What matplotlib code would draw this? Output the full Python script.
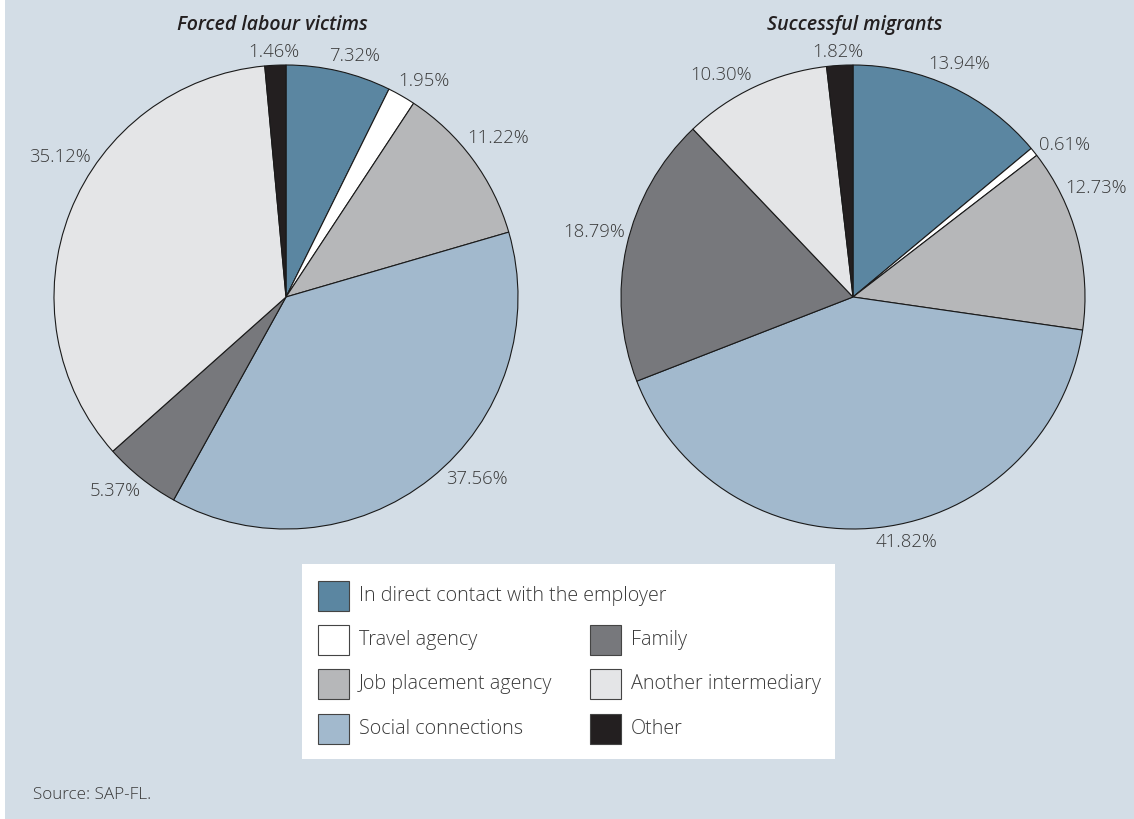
import numpy as np
import matplotlib
matplotlib.use('Agg')
import matplotlib.pyplot as plt
from matplotlib.patches import Rectangle

plt.rcParams['font.family'] = ['Open Sans', 'DejaVu Sans']

# data
categories = ['In direct contact with the employer', 'Travel agency',
              'Job placement agency', 'Social connections', 'Family',
              'Another intermediary', 'Other']
forced = [7.32, 1.95, 11.22, 37.56, 5.37, 35.12, 1.46]
migrants = [13.94, 0.61, 12.73, 41.82, 18.79, 10.30, 1.82]
titles = ['Forced labour victims', 'Successful migrants']
source = 'Source: SAP-FL.'

colors = ['#5b86a1', '#ffffff', '#b6b7b9', '#a2b9cd', '#77787c', '#e4e5e7', '#231f20']
bg = '#d3dde6'
txt_col = '#3a3a3a'

# small angle tweaks (deg) so the % labels sit where the original put them
nudges = [[-2.6, -2.7, 0.3, 7.8, -2.7, -10.2, 0.2],
          [0.7, -3.0, 9.4, 5.7, -1.5, 5.6, 0.2]]

W, H = 1134, 819
fig = plt.figure(figsize=(W / 100, H / 100), dpi=100)
fig.patch.set_facecolor('white')
fig.add_artist(Rectangle((5 / W, 0), 1 - 5 / W, 1, transform=fig.transFigure,
                         facecolor=bg, edgecolor='none', zorder=-1))

R = 232  # pie radius in px
lim = 1.05
centers = [(286, 297), (853, 297)]
title_x = [272, 855]

renderer = fig.canvas.get_renderer()
for k, vals in enumerate([forced, migrants]):
    cx, cy = centers[k]
    size = 2 * lim * R
    ax = fig.add_axes([(cx - size / 2) / W, (H - cy - size / 2) / H, size / W, size / H])
    wedges, _ = ax.pie(vals, colors=colors, startangle=90, counterclock=False,
                       wedgeprops=dict(edgecolor='#1a1a1a', linewidth=0.8))
    ax.set_xlim(-lim, lim)
    ax.set_ylim(-lim, lim)
    ax.set_aspect('equal')
    ax.axis('off')

    px = ax.transData.transform((1, 0))[0] - ax.transData.transform((0, 0))[0]
    gap = 3
    for w, v, dn in zip(wedges, vals, nudges[k]):
        ang = np.deg2rad((w.theta1 + w.theta2) / 2 + dn)
        t = ax.text(0, 0, '%.2f%%' % v, ha='center', va='center',
                    fontsize=13.3, fontweight='light', color=txt_col)
        bb = t.get_window_extent(renderer=renderer)
        ext = abs(np.cos(ang)) * bb.width / 2 + abs(np.sin(ang)) * bb.height / 2
        r = 1 + (gap + ext) / px
        t.set_position((r * np.cos(ang), r * np.sin(ang)))

    fig.text(title_x[k] / W, 1 - 25 / H, titles[k], ha='center', va='center',
             fontsize=14, fontweight='semibold', fontstyle='italic', color='#231f20')

# legend box
lx0, lx1, ly0, ly1 = 302, 835, 564, 759
lax = fig.add_axes([lx0 / W, (H - ly1) / H, (lx1 - lx0) / W, (ly1 - ly0) / H])
lax.set_xlim(0, lx1 - lx0)
lax.set_ylim(ly1 - ly0, 0)
lax.set_facecolor('white')
lax.set_xticks([])
lax.set_yticks([])
for s in lax.spines.values():
    s.set_visible(False)

row_y = [32, 76, 120, 165]
col_x = [16, 288]
for i, (lab, c) in enumerate(zip(categories, colors)):
    if i < 4:
        col, row = 0, i
    else:
        col, row = 1, i - 3
    x = col_x[col]
    y = row_y[row]
    lax.add_patch(Rectangle((x, y - 15), 31, 30, facecolor=c,
                            edgecolor='#444444', linewidth=0.8))
    lax.text(x + 41, y, lab, ha='left', va='center', fontsize=14.2,
             fontweight='light', color=txt_col)

fig.text(33 / W, 1 - 795 / H, source, ha='left', va='center', fontsize=12.3,
         fontweight='light', color=txt_col)

fig.savefig('out.png', dpi=100, facecolor=fig.get_facecolor())
